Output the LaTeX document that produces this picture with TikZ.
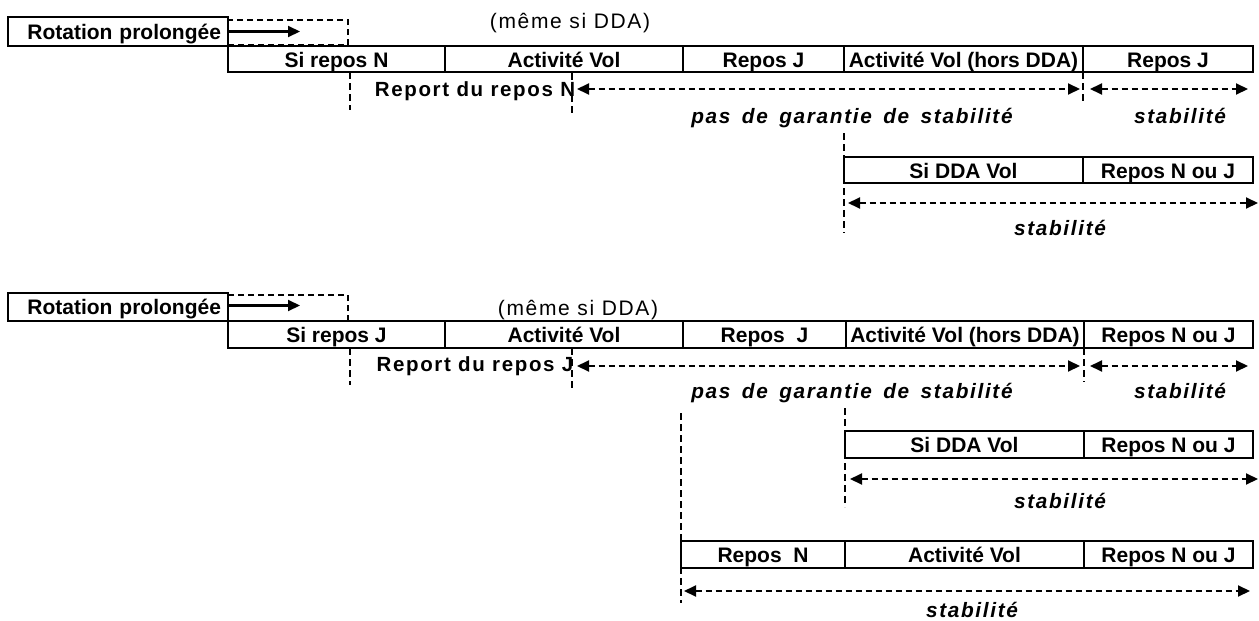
\documentclass[tikz,border=0pt]{standalone}
\usepackage{fontspec}
\setmainfont{Liberation Sans}
\newfontfamily\spc[LetterSpace=8]{Liberation Sans}
\usetikzlibrary{arrows.meta}
\newcommand\mkcell[6]{\node[cell, minimum width={#3-#2}, minimum height={#5-#4}] (#1) at ({(#2+#3)/2},{(#4+#5)/2}) {#6};}
\newcommand\guideline[4]{\coordinate (#1a) at (#2,#3); \coordinate (#1b) at (#2,#4); \draw[guide] (#1a) -- (#1b);}
\begin{document}
\begin{tikzpicture}[x=1pt,y=-1pt,
  cell/.style={draw, line width=2.1pt, inner sep=0pt, text height=16pt, text depth=0pt, font=\fontsize{21}{24}\selectfont\bfseries},
  rotbox/.style={draw, line width=2.1pt, minimum width=220pt, minimum height=29pt, inner xsep=7pt, inner ysep=0pt, text height=15pt, text depth=0pt, text width=206pt, align=right, font=\fontsize{21}{24}\selectfont\bfseries},
  dbox/.style={draw, line width=1.8pt, dash pattern=on 6pt off 4pt, minimum width=120pt, minimum height=25pt, inner sep=0pt},
  note/.style={inner sep=0pt, anchor=base, font=\spc\fontsize{21}{24}\selectfont},
  bnote/.style={inner sep=0pt, anchor=base, font=\spc\fontsize{20.5}{24}\selectfont\bfseries},
  inote/.style={inner sep=0pt, anchor=base, font=\spc\fontsize{20.8}{24}\selectfont\bfseries\itshape},
  guide/.style={line width=1.5pt, dash pattern=on 7pt off 4pt},
  solidarrow/.style={line width=2.1pt, -{Triangle[length=12pt,width=11pt]}},
  spanarrow/.style={line width=2pt, dash pattern=on 6pt off 4pt, {Triangle[length=12pt,width=11pt]}-{Triangle[length=12pt,width=11pt]}}
  ]
\useasboundingbox (0,0) rectangle (1259,621);

% ---------------- Section 1 ----------------
\node[rotbox] (rot1) at (118,31.5) {Rotation prolongée};
\node[dbox] (dash1) at (288,32.5) {};
\coordinate (tip1) at (300,31.5);
\draw[solidarrow] (rot1.east) -- (tip1);
\node[note] (meme1) at (570,28) {(même si DDA)};

\mkcell{r1c1}{228}{445}{46}{72}{Si repos N}
\mkcell{r1c2}{445}{683}{46}{72}{Activité Vol}
\mkcell{r1c3}{683}{844}{46}{72}{Repos J}
\mkcell{r1c4}{844}{1083}{46}{72}{Activité Vol (hors DDA)}
\mkcell{r1c5}{1083}{1253}{46}{72}{Repos J}

\guideline{g1}{350}{72}{110}
\guideline{g2}{572}{73}{113}
\guideline{g3}{1083}{72}{103}
\guideline{g4}{844}{133}{233}

\node[bnote] (rep1) at (475,96) {Report du repos N};
\coordinate (s1a) at (577,89); \coordinate (s1b) at (1080,89);
\draw[spanarrow] (s1a) -- (s1b);
\coordinate (s2a) at (1090,89); \coordinate (s2b) at (1248,89);
\draw[spanarrow] (s2a) -- (s2b);
\node[inote] (pas1) at (852,123) {pas\hspace{4pt} de\hspace{4pt} garantie\hspace{4pt} de\hspace{4pt} stabilité};
\node[inote] (stab1) at (1180,123) {stabilité};

\mkcell{d1c1}{844}{1083}{157}{183}{Si DDA Vol}
\mkcell{d1c2}{1083}{1253}{157}{183}{Repos N ou J}
\coordinate (s3a) at (848,203); \coordinate (s3b) at (1258,203);
\draw[spanarrow] (s3a) -- (s3b);
\node[inote] (stab2) at (1060,235) {stabilité};

% ---------------- Section 2 ----------------
\node[rotbox, minimum height=28pt] (rot2) at (118,307) {Rotation prolongée};
\node[dbox, minimum height=26pt] (dash2) at (288,308) {};
\coordinate (tip2) at (300,305.5);
\draw[solidarrow] (rot2.east |- tip2) -- (tip2);
\node[note] (meme2) at (578,315) {(même si DDA)};

\mkcell{r2c1}{228}{445}{321}{348}{Si repos J}
\mkcell{r2c2}{445}{683}{321}{348}{Activité Vol}
\mkcell{r2c3}{683}{846}{321}{348}{Repos\ \ J}
\mkcell{r2c4}{846}{1084}{321}{348}{Activité Vol (hors DDA)}
\mkcell{r2c5}{1084}{1253}{321}{348}{Repos N ou J}

\guideline{h1}{350}{348}{385}
\guideline{h2}{572}{348}{390}
\guideline{h3}{1084}{348}{382}
\guideline{h4}{845}{408}{507}
\guideline{h5}{681}{413}{603}

\node[bnote] (rep2) at (475,371) {Report du repos J};
\coordinate (t1a) at (577,366); \coordinate (t1b) at (1080,366);
\draw[spanarrow] (t1a) -- (t1b);
\coordinate (t2a) at (1090,366); \coordinate (t2b) at (1248,366);
\draw[spanarrow] (t2a) -- (t2b);
\node[inote] (pas2) at (852,398) {pas\hspace{4pt} de\hspace{4pt} garantie\hspace{4pt} de\hspace{4pt} stabilité};
\node[inote] (stab3) at (1180,398) {stabilité};

\mkcell{d2c1}{845}{1084}{431}{458}{Si DDA Vol}
\mkcell{d2c2}{1084}{1253}{431}{458}{Repos N ou J}
\coordinate (t3a) at (850,479); \coordinate (t3b) at (1258,479);
\draw[spanarrow] (t3a) -- (t3b);
\node[inote] (stab4) at (1060,508) {stabilité};

\mkcell{b2c1}{681}{845}{541}{568}{Repos\ \ N}
\mkcell{b2c2}{845}{1084}{541}{568}{Activité Vol}
\mkcell{b2c3}{1084}{1253}{541}{568}{Repos N ou J}
\coordinate (t4a) at (684,591); \coordinate (t4b) at (1250,591);
\draw[spanarrow] (t4a) -- (t4b);
\node[inote] (stab5) at (972,617) {stabilité};
\end{tikzpicture}
\end{document}
